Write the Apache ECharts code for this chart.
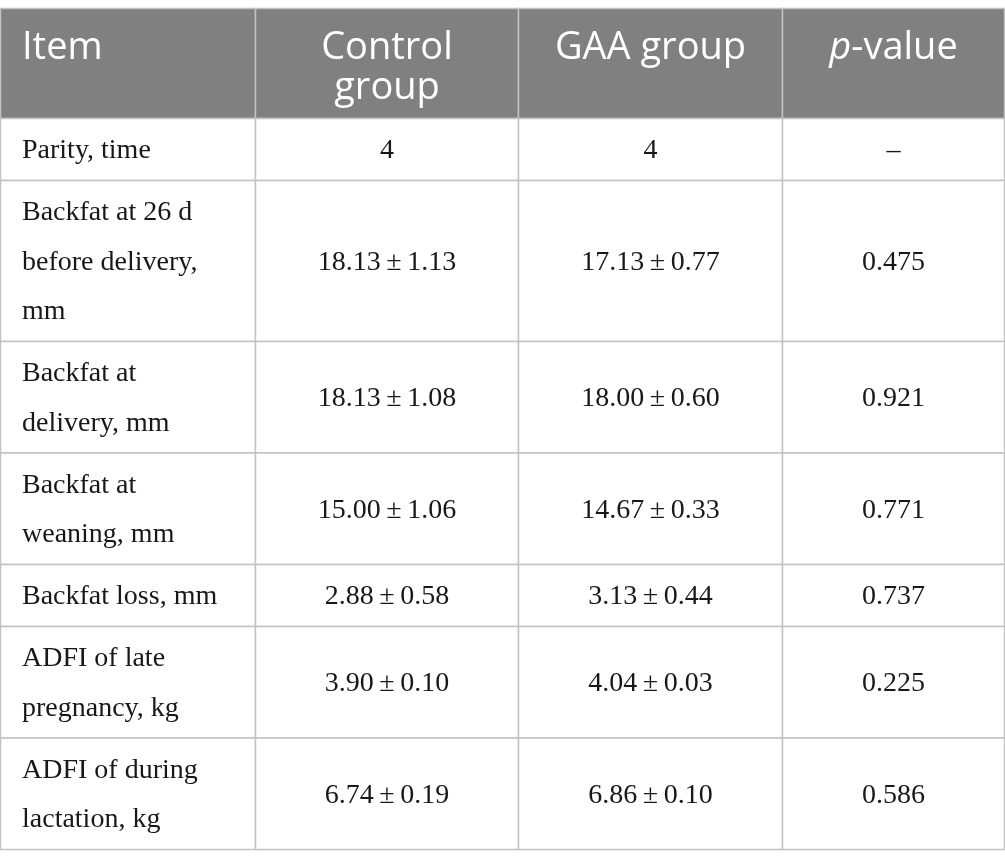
<!DOCTYPE html>
<html>
<head>
<meta charset="utf-8">
<script src="https://cdn.jsdelivr.net/npm/echarts@6/dist/echarts.min.js"></script>
<style>
html,body{margin:0;padding:0;background:#fff}
#table{width:1005px;height:867px}
</style>
</head>
<body>
<div id="table"></div>
<script>
// table content
var headers = ['Item', 'Control\ngroup', 'GAA group', '{i|p}-value'];
var items = [
  'Parity, time',
  'Backfat at 26 d\nbefore delivery,\nmm',
  'Backfat at\ndelivery, mm',
  'Backfat at\nweaning, mm',
  'Backfat loss, mm',
  'ADFI of late\npregnancy, kg',
  'ADFI of during\nlactation, kg'
];
var controlGroup = ['4', '18.13 ± 1.13', '18.13 ± 1.08', '15.00 ± 1.06', '2.88 ± 0.58', '3.90 ± 0.10', '6.74 ± 0.19'];
var gaaGroup = ['4', '17.13 ± 0.77', '18.00 ± 0.60', '14.67 ± 0.33', '3.13 ± 0.44', '4.04 ± 0.03', '6.86 ± 0.10'];
var pValues = ['–', '0.475', '0.921', '0.771', '0.737', '0.225', '0.586'];

// layout (table drawn in a 1005 x 867 value space)
var colEdges = [0.5, 255.5, 518.5, 782.5, 1004.5];
var tableTop = 8.5, headerH = 110, lineH = 49.5, rowPad = 12.5;
var rowEdges = [tableTop, tableTop + headerH];
items.forEach(function (s) {
  var n = s.split('\n').length;
  rowEdges.push(rowEdges[rowEdges.length - 1] + rowPad + lineH * n);
});

var columns = [items, controlGroup, gaaGroup, pValues];
var cells = [];
for (var c = 0; c < columns.length; c++) {
  cells.push([c, 0]);
  for (var r = 0; r < items.length; r++) cells.push([c, r + 1]);
}

function cellText(c, r) {
  if (r === 0) return headers[c];
  return columns[c][r - 1].replace(/ ± /g, '\u2009±\u2009');
}

var myChart = echarts.init(document.getElementById('table'));
var option = {
  animation: false,
  grid: { left: 0, right: 0, top: 0, bottom: 0 },
  xAxis: { type: 'value', min: 0, max: 1005, show: false },
  yAxis: { type: 'value', min: 0, max: 867, inverse: true, show: false },
  series: [{
    type: 'custom',
    clip: false,
    data: cells,
    renderItem: function (params, api) {
      var c = api.value(0), r = api.value(1);
      var p0 = api.coord([colEdges[c], rowEdges[r]]);
      var p1 = api.coord([colEdges[c + 1], rowEdges[r + 1]]);
      var head = r === 0;
      var left = c === 0;
      var tx = left ? p0[0] + 21.5 : (p0[0] + p1[0]) / 2;
      var textStyle;
      if (head) {
        textStyle = {
          text: cellText(c, r),
          x: tx, y: p0[1] + 19,
          fill: '#ffffff',
          fontFamily: 'Open Sans', fontSize: 38,
          lineHeight: 40.5,
          align: left ? 'left' : 'center', verticalAlign: 'top',
          rich: { i: { fontStyle: 'italic', fontFamily: 'Open Sans', fontSize: 38, fill: '#ffffff', lineHeight: 40.5 } }
        };
      } else {
        textStyle = {
          text: cellText(c, r),
          x: tx, y: (p0[1] + p1[1]) / 2 + 1.5,
          fill: '#1a1718',
          fontFamily: 'Liberation Serif', fontSize: 28,
          lineHeight: lineH,
          align: left ? 'left' : 'center', verticalAlign: 'middle'
        };
      }
      return {
        type: 'group',
        children: [{
          type: 'rect',
          shape: { x: p0[0], y: p0[1], width: p1[0] - p0[0], height: p1[1] - p0[1] },
          style: { fill: head ? '#808080' : '#ffffff', stroke: '#c2c2c2', lineWidth: 1.5 }
        }, {
          type: 'text',
          style: textStyle
        }]
      };
    }
  }]
};
myChart.setOption(option);
</script>
</body>
</html>
